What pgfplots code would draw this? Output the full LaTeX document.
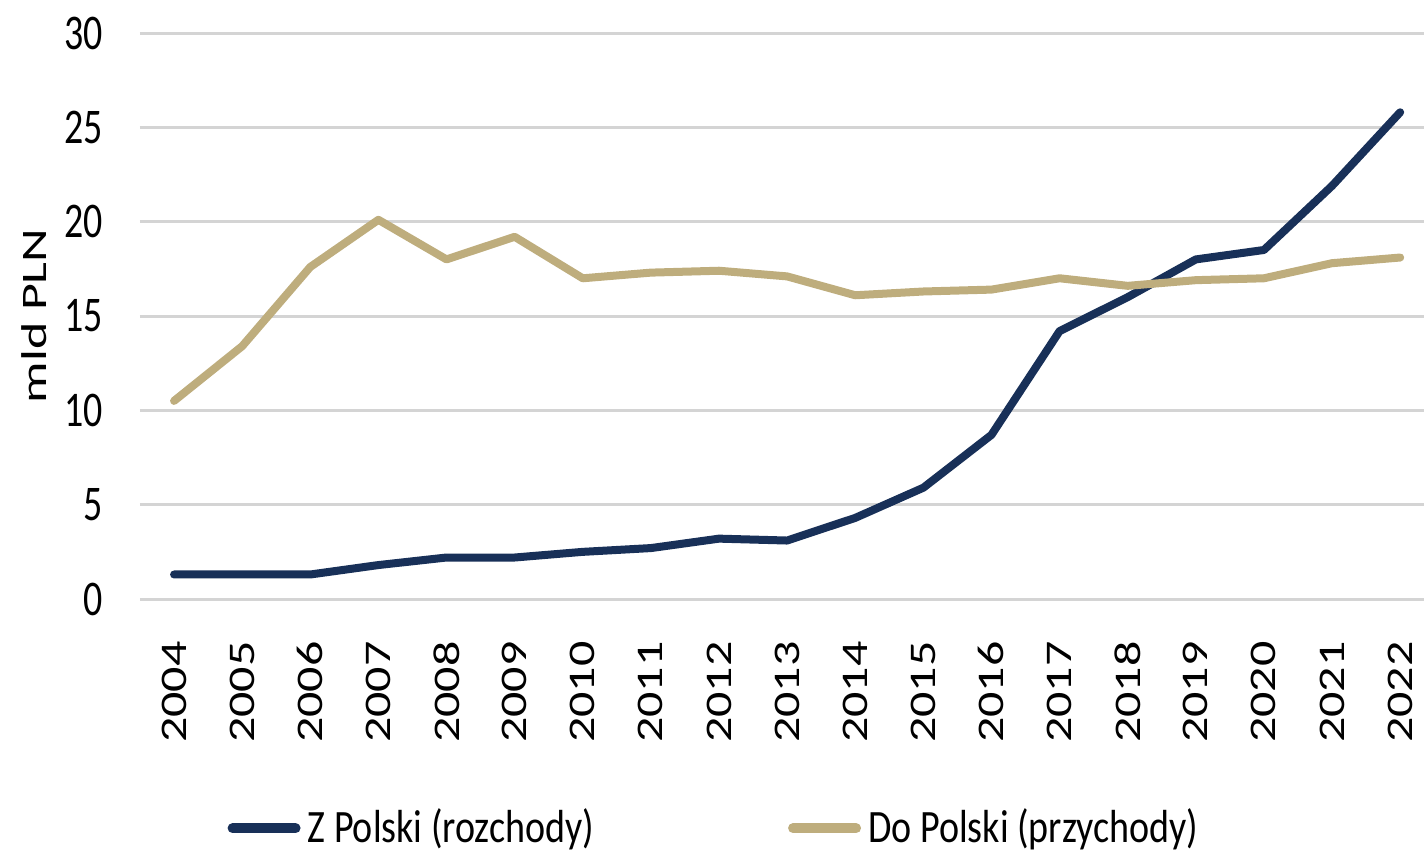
\documentclass[border=0pt]{standalone}
\usepackage{fontspec}
\setmainfont{Carlito}
\newfontfamily\tickfont{Carlito}[FakeStretch=0.76]
\newfontfamily\legfont{Carlito}[FakeStretch=0.82]
\newfontfamily\yearfont{Carlito}[FakeStretch=1.33]
\newfontfamily\labfont{Carlito}[FakeStretch=1.45]
\usepackage{pgfplots}
\pgfplotsset{compat=1.18}

\definecolor{navy}{RGB}{24,48,88}
\definecolor{beige}{RGB}{190,173,125}

\begin{document}
\begin{tikzpicture}
\useasboundingbox (0,0) rectangle (14.24,8.53);
\begin{axis}[
  at={(1.40cm,2.54cm)}, anchor=south west,
  width=12.84cm, height=5.66cm, scale only axis,
  xmin=2003.5, xmax=2022.35, ymin=0, ymax=30,
  xtick={2004,...,2022}, ytick={0,5,...,30},
  axis line style={draw=none}, major tick length=0pt,
  ymajorgrids, grid style={color=black!17, line width=0.03cm},
  /pgf/number format/assume math mode=true,
  /pgf/number format/1000 sep={},
  yticklabel style={font=\tickfont\fontsize{14.2}{14}\selectfont, anchor=east, xshift=-0.25cm},
  xticklabel style={font=\yearfont\fontsize{10.7}{11}\selectfont, rotate=90, anchor=east, xshift=-0.3cm},
  ylabel={mld PLN},
  ylabel style={font=\labfont\fontsize{10.2}{11}\selectfont, at={(axis description cs:-0.0826,0.5)}, anchor=center},
  legend columns=2,
  legend style={draw=none, fill=none, at={(axis description cs:0.449,-0.405)}, anchor=center,
    font=\legfont\fontsize{13.2}{14}\selectfont, inner sep=0pt,
    /tikz/every even column/.append style={column sep=1.87cm}},
  legend image code/.code={\draw[#1, line width=0.1cm, line cap=round] (0cm,0cm) -- (0.63cm,0cm);},
  clip=false,
]
\addplot[navy, line width=0.08cm, line join=round, line cap=round] coordinates {
(2004,1.3) (2005,1.3) (2006,1.3) (2007,1.8) (2008,2.2) (2009,2.2) (2010,2.5)
(2011,2.7) (2012,3.2) (2013,3.1) (2014,4.3) (2015,5.9) (2016,8.7) (2017,14.2)
(2018,16.0) (2019,18.0) (2020,18.5) (2021,21.9) (2022,25.8)};
\addlegendentry{Z Polski (rozchody)}
\addplot[beige, line width=0.08cm, line join=round, line cap=round] coordinates {
(2004,10.5) (2005,13.4) (2006,17.6) (2007,20.1) (2008,18.0) (2009,19.2) (2010,17.0)
(2011,17.3) (2012,17.4) (2013,17.1) (2014,16.1) (2015,16.3) (2016,16.4) (2017,17.0)
(2018,16.6) (2019,16.9) (2020,17.0) (2021,17.8) (2022,18.1)};
\addlegendentry{Do Polski (przychody)}
\end{axis}
\end{tikzpicture}
\end{document}
